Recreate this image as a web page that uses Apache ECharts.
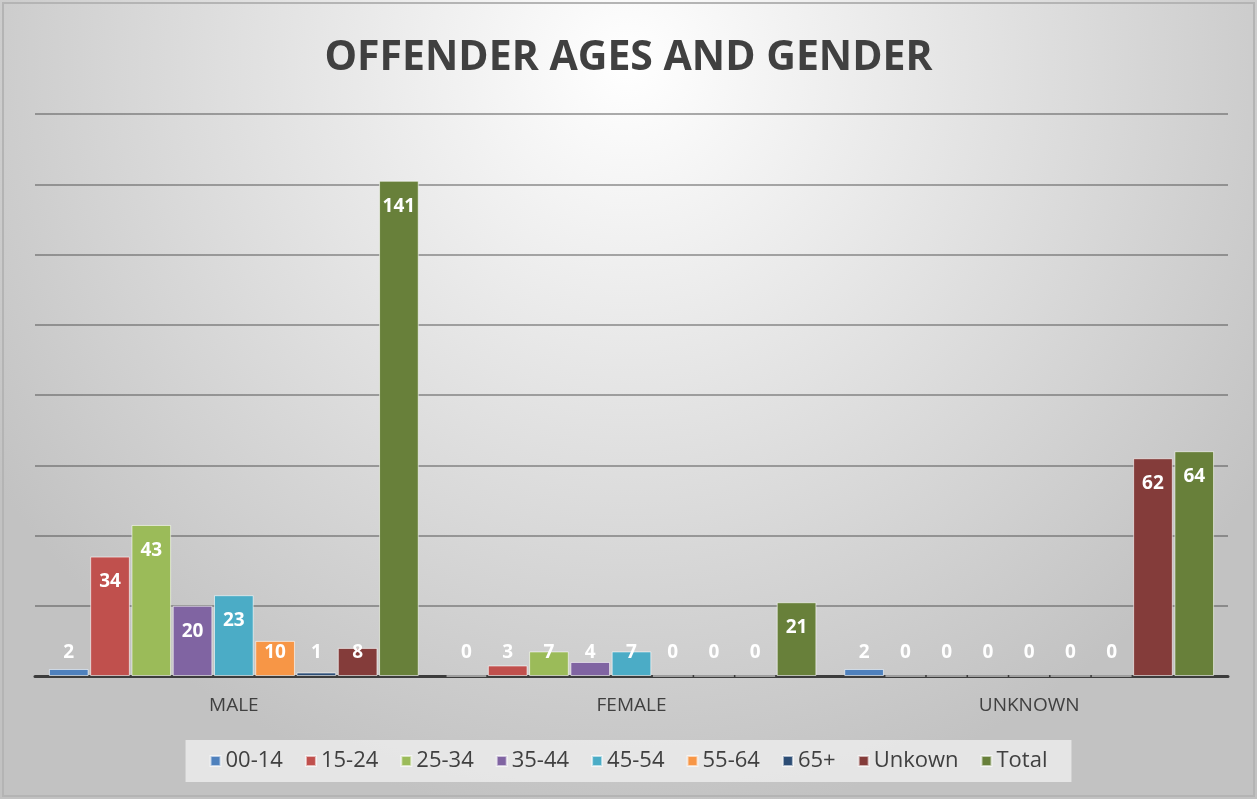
<!DOCTYPE html>
<html lang="en">
  <head>
    <meta http-equiv="Content-Type" content="text/html; charset=UTF-8" />
    <title>Offender ages and gender</title>
    <style>
      html,
      body {
        height: 100%;
        width: 100%;
        margin: 0;
        padding: 0;
        overflow: hidden;
      }
      #main {
        width: 1257px;
        height: 799px;
      }
    </style>
    <script src="https://cdn.jsdelivr.net/npm/echarts@6/dist/echarts.min.js"></script>
  </head>

  <body>
    <div id="main"></div>

    <script>
      // data
      var categories = ["MALE", "FEMALE", "UNKNOWN"];
      var seriesNames = ["00-14", "15-24", "25-34", "35-44", "45-54", "55-64", "65+", "Unkown", "Total"];
      var age0014 = [2, 0, 2];
      var age1524 = [34, 3, 0];
      var age2534 = [43, 7, 0];
      var age3544 = [20, 4, 0];
      var age4554 = [23, 7, 0];
      var age5564 = [10, 0, 0];
      var age65 = [1, 0, 0];
      var unkown = [8, 0, 62];
      var total = [141, 21, 64];

      var values = [age0014, age1524, age2534, age3544, age4554, age5564, age65, unkown, total];
      var colors = ["#4f81bd", "#c0504d", "#9bbb59", "#8064a2", "#4bacc6", "#f79646", "#2c4d75", "#843c3a", "#68803a"];

      var myChart = echarts.init(document.getElementById("main"));

      var font = "'Open Sans', 'Liberation Sans', sans-serif";

      // short bars get their label sitting on the baseline, like excel does
      function makeData(arr) {
        return arr.map(function (v) {
          if (v < 15) {
            return {
              value: v,
              label: { position: "insideBottom", distance: 14 },
            };
          }
          return v;
        });
      }

      var series = seriesNames.map(function (name, i) {
        return {
          name: name,
          type: "bar",
          barGap: "4%",
          barCategoryGap: "7%",
          itemStyle: {
            color: colors[i],
            borderColor: "rgba(255,255,255,0.6)",
            borderWidth: 1,
          },
          label: {
            show: true,
            position: "insideTop",
            distance: 16,
            color: "#ffffff",
            fontFamily: font,
            fontWeight: "bold",
            fontSize: 19,
          },
          data: makeData(values[i]),
        };
      });

      var option = {
        backgroundColor: {
          type: "radial",
          x: 0.5,
          y: 0.08,
          r: 0.95,
          colorStops: [
            { offset: 0, color: "#ffffff" },
            { offset: 1, color: "#c2c2c2" },
          ],
        },
        color: colors,
        title: {
          text: "OFFENDER AGES AND GENDER",
          left: "center",
          top: 33,
          textStyle: {
            fontFamily: font,
            fontWeight: "bold",
            fontSize: 41,
            color: "#404040",
          },
        },
        legend: {
          data: seriesNames,
          bottom: 17,
          left: "center",
          icon: "rect",
          itemWidth: 10,
          itemHeight: 10,
          itemGap: 22,
          padding: [10, 24],
          backgroundColor: "rgba(240,240,240,0.75)",
          textStyle: {
            fontFamily: font,
            fontSize: 22,
            color: "#404040",
          },
        },
        grid: {
          left: 35,
          right: 29,
          top: 114,
          bottom: 123,
          containLabel: false,
        },
        xAxis: {
          type: "category",
          data: categories,
          axisLine: { lineStyle: { color: "#3c3c3c", width: 3 } },
          axisTick: { show: false },
          axisLabel: {
            margin: 20,
            fontFamily: font,
            fontSize: 19,
            color: "#404040",
          },
        },
        yAxis: {
          type: "value",
          min: 0,
          max: 160,
          interval: 20,
          axisLabel: { show: false },
          axisLine: { show: false },
          axisTick: { show: false },
          splitLine: {
            lineStyle: { color: "rgba(70,70,70,0.45)", width: 2 },
          },
        },
        graphic: [
          {
            type: "rect",
            shape: { x: 3, y: 3, width: 1251, height: 793 },
            style: { fill: "none", stroke: "#b4b4b4", lineWidth: 2 },
            silent: true,
          },
        ],
        series: series,
      };

      myChart.setOption(option);
    </script>
  </body>
</html>
